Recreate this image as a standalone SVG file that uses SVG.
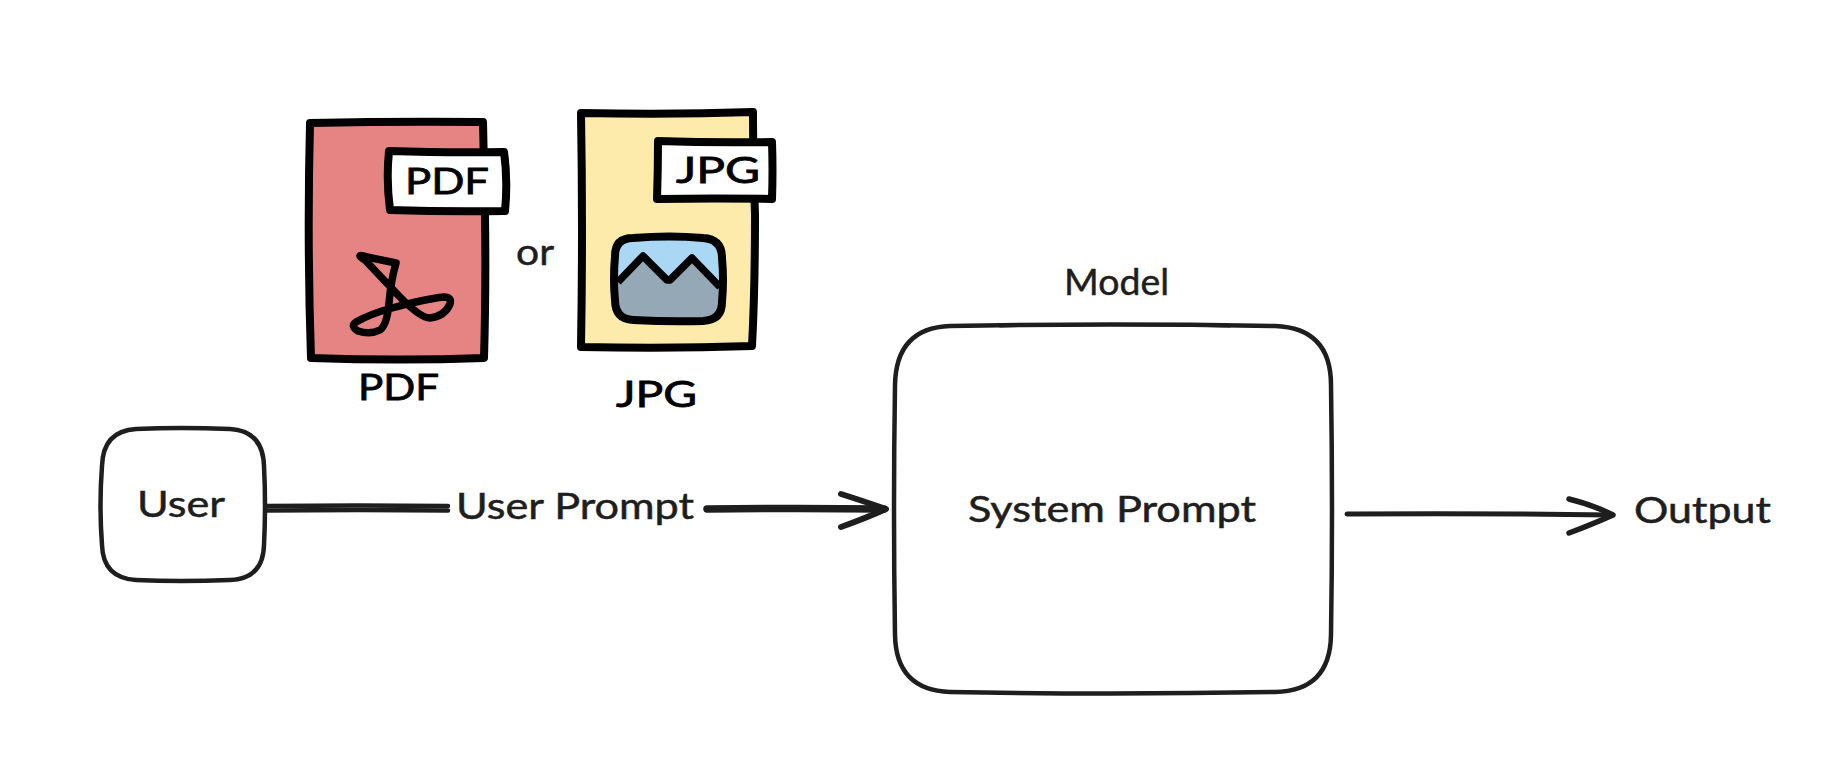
<svg xmlns="http://www.w3.org/2000/svg" width="1836" height="780" viewBox="0 0 1836 780">
<style>
.t{font-family:"Lato","Noto Sans",sans-serif;font-size:37px;fill:#1e1e1e;stroke:#1e1e1e;stroke-width:.5}
.b{font-family:"Lato","Noto Sans",sans-serif;font-size:37px;fill:#000;stroke:#000;stroke-width:.8}
.box{fill:#fff;stroke:#1e1e1e;stroke-width:4.5;stroke-linejoin:round}
.thick{stroke:#000;stroke-width:8;stroke-linejoin:round;stroke-linecap:round}
.line{fill:none;stroke:#1e1e1e;stroke-linecap:round;stroke-linejoin:round}
</style>
<rect width="1836" height="780" fill="#fff"/>
<g id="pdf-file">
<path class="thick" fill="#e68484" d="M310 123Q400 121 483 122Q484 160 485 215Q486 290 484 358Q400 361 311 358Q307 240 310 123Z"/>
<path class="thick" fill="#fff" d="M389 151Q450 153 504 152Q508 180 505 211Q450 212 390 210Q386 180 389 151Z"/>
<text class="b" x="405" y="194" textLength="84" lengthAdjust="spacingAndGlyphs">PDF</text>
<path d="M365 260Q354 253 367 257L396 263Q391 280 389 303Q387 325 380 330Q370 335 358 331Q350 326 356 322Q370 314 392 308Q425 299 444 297Q452 297 450 304Q445 316 430 318Q420 318 398 295Q380 276 365 260Z" fill="none" stroke="#000" stroke-width="7.5" stroke-linejoin="round"/>
<text class="b" x="358" y="400" textLength="81" lengthAdjust="spacingAndGlyphs">PDF</text>
</g>
<g id="or-label"><text class="t" x="516" y="265" textLength="38" lengthAdjust="spacingAndGlyphs">or</text></g>
<g id="jpg-file">
<path class="thick" fill="#fcebaa" d="M581 113Q670 115 753 112Q753 150 755 215Q755 290 752 346Q670 349 581 347Q583 230 581 113Z"/>
<path class="thick" fill="#fff" d="M658 141Q715 143 772 142Q773 170 772 199Q715 198 657 199Q658 170 658 141Z"/>
<text class="b" x="676" y="183" textLength="84" lengthAdjust="spacingAndGlyphs">JPG</text>
<path fill="#a9d7f4" d="M633 238Q670 236 703 238Q722 238 722 256V290H615V256Q615 238 633 238Z"/>
<path fill="#95a8b5" d="M616 282L643 256L667 278L692 258L720 285V300Q720 320 703 320H633Q615 320 615 300Z"/>
<path fill="none" stroke="#000" stroke-width="7.5" stroke-linejoin="round" d="M618 282L643 256L667 280H670L692 258L720 287"/>
<path fill="none" stroke="#000" stroke-width="8" d="M633 238Q670 235 703 238Q722 239 722 258Q724 280 722 302Q722 320 703 321Q670 322 633 320Q615 319 615 300Q613 280 615 256Q615 238 633 238Z"/>
<text class="b" x="616" y="407" textLength="81" lengthAdjust="spacingAndGlyphs">JPG</text>
</g>
<g id="user">
<path class="box" d="M136 429Q180 427 230 429Q263 431 264 466Q266 505 264 545Q263 579 230 580Q180 582 136 580Q103 578 102 545Q99 505 102 466Q103 431 136 429Z"/>
<text class="t" x="137" y="517" textLength="88" lengthAdjust="spacingAndGlyphs">User</text>
</g>
<g id="model">
<path class="box" d="M950 326Q1110 323 1275 326Q1331 328 1331 385Q1333 510 1331 635Q1330 691 1275 692Q1110 695 950 692Q896 690 895 635Q893 510 895 385Q896 328 950 326Z"/>
<path fill="none" stroke="#1e1e1e" stroke-width="3" stroke-linecap="round" d="M1000 326Q1110 323 1230 326"/>
<text class="t" x="968" y="522" textLength="288" lengthAdjust="spacingAndGlyphs">System Prompt</text>
<text class="t" x="1064" y="295" textLength="105" lengthAdjust="spacingAndGlyphs">Model</text>
</g>
<g id="output"><text class="t" x="1634" y="523" textLength="137" lengthAdjust="spacingAndGlyphs">Output</text></g>
<g id="connectors">
<path class="line" stroke-width="4.5" stroke-linecap="butt" d="M266 506Q360 505 448 506"/>
<path class="line" stroke-width="4.5" stroke-linecap="butt" d="M266 510.500Q360 509.500 448 510.500"/>
<text class="t" x="456" y="519" textLength="238" lengthAdjust="spacingAndGlyphs">User Prompt</text>
<path class="line" stroke-width="7.5" stroke-linecap="butt" d="M707 509Q800 508 884 509"/>
<path class="line" stroke-width="6" d="M841 494Q866 502 886 509Q866 518 841 527"/>
<path class="line" stroke-width="5" d="M1347 514Q1480 513 1611 515"/>
<path class="line" stroke-width="5.500" d="M1569 499Q1593 505 1613 515Q1593 524 1569 533"/>
</g>
</svg>
